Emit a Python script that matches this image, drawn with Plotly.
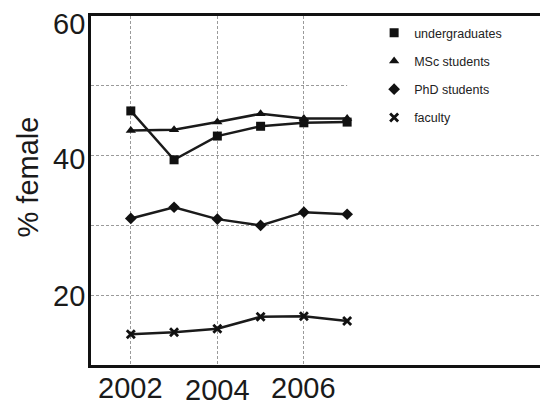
import plotly.graph_objects as go

years = [2002, 2003, 2004, 2005, 2006, 2007]
undergraduates = [46.4, 39.4, 42.8, 44.2, 44.7, 44.8]
msc_students = [43.6, 43.7, 44.8, 46.0, 45.3, 45.3]
phd_students = [31.0, 32.6, 30.9, 30.0, 31.9, 31.6]
faculty = [14.4, 14.7, 15.2, 16.9, 17.0, 16.3]

series_names = ["undergraduates", "MSc students", "PhD students", "faculty"]
series_values = [undergraduates, msc_students, phd_students, faculty]
symbols = ["square", "triangle-up", "diamond", "x-thin"]
sizes = [9, 9, 9, 8]

x_tick_labels = ["2002", "2004", "2006"]
x_tick_vals = [2002, 2004, 2006]
x_tick_y = [-0.066, -0.072, -0.066]
y_grid_vals = [20, 30, 40, 50, 60]
y_tick_labels = ["20", "40", "60"]
y_tick_vals = [20, 40, 60]
y_tick_shift = [-1, -3, -8]

FONT = "Liberation Sans, Arial, sans-serif"

fig = go.Figure()
for name, vals, sym, sz in zip(series_names, series_values, symbols, sizes):
    mk = dict(symbol=sym, size=sz, color="#111111")
    if sym == "x-thin":
        mk["line"] = dict(width=2.8, color="#111111")
    fig.add_trace(go.Scatter(
        x=years, y=vals, mode="lines+markers", name=name,
        line=dict(color="#1a1a1a", width=2.5), marker=mk, showlegend=False,
    ))
for i, (name, sym, sz) in enumerate(zip(series_names, symbols, sizes)):
    mk = dict(symbol=sym, size=sz, color="#111111")
    if sym == "x-thin":
        mk["line"] = dict(width=2.8, color="#111111")
    fig.add_trace(go.Scatter(
        x=[None], y=[None], mode="markers", name=name, marker=mk,
        legendgroup=f"g{i}", showlegend=True,
    ))

# white box behind the legend hides the 50% gridline to the right of 2007
fig.add_shape(type="rect", xref="x", yref="y", x0=2007, x1=2011.6, y0=47, y1=60,
              fillcolor="white", line=dict(width=0), layer="between")

for lab, xv, yv in zip(x_tick_labels, x_tick_vals, x_tick_y):
    fig.add_annotation(text=lab, x=xv, y=yv, xref="x", yref="paper",
                       showarrow=False, xanchor="center", yanchor="middle",
                       borderpad=0,
                       font=dict(family=FONT, size=29, color="#1a1a1a"))

for lab, yv, sh in zip(y_tick_labels, y_tick_vals, y_tick_shift):
    fig.add_annotation(text=lab, x=-0.012, y=yv, xref="paper", yref="y",
                       yshift=sh, showarrow=False, xanchor="right", yanchor="middle",
                       borderpad=0,
                       font=dict(family=FONT, size=29, color="#1a1a1a"))

fig.add_annotation(text="% female", x=-0.140, y=0.539, xref="paper", yref="paper",
                   textangle=-90, showarrow=False, xanchor="center", yanchor="middle",
                   font=dict(family=FONT, size=29, color="#1a1a1a"))

fig.update_layout(
    width=540, height=398,
    margin=dict(l=83, r=1, t=8, b=41),
    paper_bgcolor="white", plot_bgcolor="white",
    font=dict(family=FONT, color="#1a1a1a"),
    legend=dict(x=0.625, y=0.994, xanchor="left", yanchor="top",
                bgcolor="rgba(255,255,255,0)", tracegroupgap=9,
                font=dict(family=FONT, size=12.5, color="#222222")),
    xaxis=dict(range=[2001.08, 2011.55], tickvals=x_tick_vals, showticklabels=False,
               showgrid=True, gridcolor="#9a9a9a", gridwidth=1, griddash="3px,2px",
               showline=True, linecolor="#111111", linewidth=3, mirror=True,
               zeroline=False, ticks=""),
    yaxis=dict(range=[10, 60], tickvals=y_grid_vals, showticklabels=False,
               showgrid=True, gridcolor="#9a9a9a", gridwidth=1, griddash="3px,2px",
               showline=True, linecolor="#111111", linewidth=3, mirror=True,
               zeroline=False, ticks=""),
)

fig.write_html("out.html")
